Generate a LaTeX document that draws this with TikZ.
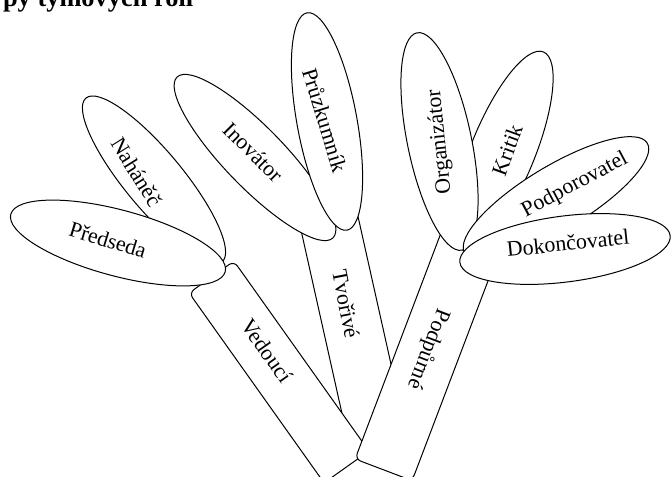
\documentclass[tikz,border=0pt]{standalone}
\usepackage{fontspec}
\setmainfont{Liberation Serif}
\usetikzlibrary{shapes.geometric}

\begin{document}
\begin{tikzpicture}[x=1bp, y=-1bp,
  petal/.style={draw, ellipse, fill=white, line width=1bp, inner sep=0pt},
  stembox/.style={draw, rectangle, rounded corners=6bp, fill=white, line width=1bp, inner sep=0pt},
  rolename/.style={font=\fontsize{22}{26}\selectfont, inner sep=0pt}]
  \useasboundingbox (0,0) rectangle (671,477);
  \clip (0,0) rectangle (671,477);
  % title, cut at the edge
  \node[anchor=base west, inner sep=0pt, font=\fontsize{26.5}{30}\selectfont\bfseries] (title) at (-26,7) {Typy týmových rolí};
  % stems
  \node[stembox, minimum width=256bp, minimum height=58.6bp, rotate=-77.4] (tvorive) at (350,315) {};
  \node[rolename, rotate=-79] (l-tvorive) at (346,304) {Tvořivé};
  \node[stembox, minimum width=233bp, minimum height=55bp, rotate=-54.6] (vedouci) at (279,372) {};
  \node[rolename, rotate=-55] (l-vedouci) at (267,351) {Vedoucí};
  \node[stembox, minimum width=250bp, minimum height=61bp, rotate=69.2] (podpurne) at (428,353) {};
  \node[rolename, rotate=-111] (l-podpurne) at (428,349) {Podpůrné};
  % leaves
  \node[petal, minimum width=213bp, minimum height=58bp, rotate=-50.3] (nahanec) at (154,180) {};
  \node[rolename, rotate=-58] (l-nahanec) at (137,172) {Naháněč};
  \node[petal, minimum width=222bp, minimum height=66bp, rotate=-15] (predseda) at (118,243) {};
  \node[rolename, rotate=-17] (l-predseda) at (108,240) {Předseda};
  \node[petal, minimum width=224bp, minimum height=60bp, rotate=-45.9] (inovator) at (255,157.5) {};
  \node[rolename, rotate=-45] (l-inovator) at (253,152) {Inovátor};
  \node[petal, minimum width=221bp, minimum height=60bp, rotate=-79.6] (pruzkumnik) at (327,121.5) {};
  \node[rolename, rotate=-73] (l-pruzkumnik) at (325,120) {Průzkumník};
  \node[petal, minimum width=214bp, minimum height=64bp, rotate=67.8] (kritik) at (503,151) {};
  \node[rolename, rotate=70] (l-kritik) at (507,150) {Kritik};
  \node[petal, minimum width=222bp, minimum height=64bp, rotate=-78.3] (organizator) at (439.5,141.5) {};
  \node[rolename, rotate=96] (l-organizator) at (440,142) {Organizátor};
  \node[petal, minimum width=213bp, minimum height=64bp, rotate=31] (podporovatel) at (556,198) {};
  \node[rolename, rotate=28] (l-podporovatel) at (575,185) {Podporovatel};
  \node[petal, minimum width=212bp, minimum height=66bp, rotate=7.3] (dokoncovatel) at (565,249) {};
  \node[rolename, rotate=6] (l-dokoncovatel) at (568,243) {Dokončovatel};
\end{tikzpicture}
\end{document}
